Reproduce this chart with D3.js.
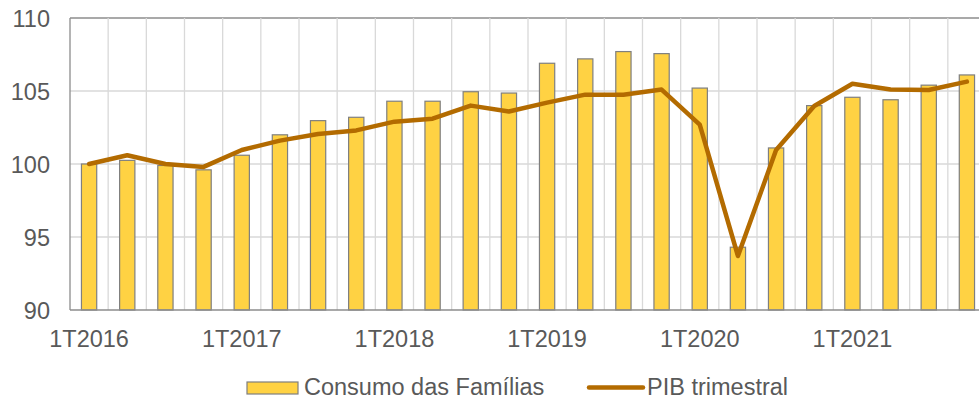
<!DOCTYPE html>
<html>
<head>
<meta charset="utf-8">
<script src="https://cdn.jsdelivr.net/npm/d3@7"></script>
<style>
  body { margin: 0; background: #fff; }
  text { font-family: "Liberation Sans", Arial, sans-serif; fill: #595959; }
</style>
</head>
<body>
<div id="chart"></div>
<script>
var quarters = [];
[2016, 2017, 2018, 2019, 2020, 2021].forEach(function(yr) {
  for (var q = 1; q <= 4; q++) quarters.push(q + "T" + yr);
});

var consumo = [100.0, 100.25, 99.9, 99.6, 100.6, 102.0, 102.97, 103.2,
               104.3, 104.3, 104.95, 104.86, 106.9, 107.2, 107.7, 107.56,
               105.2, 94.3, 101.1, 104.0, 104.57, 104.4, 105.4, 106.1];

var pib = [100.0, 100.6, 100.0, 99.8, 100.96, 101.6, 102.05, 102.3,
           102.9, 103.1, 104.0, 103.6, 104.2, 104.75, 104.75, 105.1,
           102.7, 93.7, 100.96, 103.97, 105.5, 105.1, 105.07, 105.64];

var yTicks = [90, 95, 100, 105, 110];

var width = 979, height = 400;
var mLeft = 70, mTop = 18, mBottom = 310, plotRight = 986;
var fs = 23.5;

var svg = d3.select("#chart").append("svg")
    .attr("width", width)
    .attr("height", height);

var x = d3.scaleBand()
    .domain(quarters)
    .range([mLeft, plotRight]);

var y = d3.scaleLinear()
    .domain([90, 110])
    .range([mBottom, mTop]);

function label(g, tx, ty, str, anchor) {
  return g.append("text")
    .attr("x", tx).attr("y", ty)
    .attr("text-anchor", anchor || "start")
    .attr("font-size", fs)
    .text(str);
}

// grid
var grid = svg.append("g");
grid.selectAll(".hg")
    .data(yTicks.filter(function(d) { return d > 90; }))
    .enter().append("line")
    .attr("x1", mLeft).attr("x2", width)
    .attr("y1", function(d) { return y(d); })
    .attr("y2", function(d) { return y(d); })
    .attr("stroke", function(d) { return d === 110 ? "#8c8c8c" : "#d9d9d9"; })
    .attr("stroke-width", 1.3);

grid.selectAll(".vg")
    .data(quarters.slice(1))
    .enter().append("line")
    .attr("x1", function(d) { return x(d); })
    .attr("x2", function(d) { return x(d); })
    .attr("y1", mTop).attr("y2", mBottom)
    .attr("stroke", "#d9d9d9")
    .attr("stroke-width", 1.3);

// left axis line
svg.append("line")
    .attr("x1", mLeft).attr("x2", mLeft)
    .attr("y1", mTop).attr("y2", mBottom)
    .attr("stroke", "#8c8c8c").attr("stroke-width", 1.3);

// bars
var bw = x.bandwidth() * 0.4;
svg.append("g").selectAll("rect")
    .data(consumo)
    .enter().append("rect")
    .attr("x", function(d, i) { return x(quarters[i]) + x.bandwidth() / 2 - bw / 2; })
    .attr("y", function(d) { return y(d); })
    .attr("width", bw)
    .attr("height", function(d) { return mBottom - y(d); })
    .attr("fill", "#ffd243")
    .attr("stroke", "#7f7f7f")
    .attr("stroke-width", 1.2);

// bottom axis
svg.append("line")
    .attr("x1", mLeft).attr("x2", width)
    .attr("y1", mBottom).attr("y2", mBottom)
    .attr("stroke", "#8c8c8c").attr("stroke-width", 1.5);

// PIB line
var line = d3.line()
    .x(function(d, i) { return x(quarters[i]) + x.bandwidth() / 2; })
    .y(function(d) { return y(d); });

svg.append("path")
    .datum(pib)
    .attr("d", line)
    .attr("fill", "none")
    .attr("stroke", "#b36b00")
    .attr("stroke-width", 4.5)
    .attr("stroke-linejoin", "round")
    .attr("stroke-linecap", "round");

// y labels
var yl = svg.append("g");
yTicks.forEach(function(d) { label(yl, 50, y(d) + 8.5, d, "end"); });

// x labels
var xl = svg.append("g");
quarters.filter(function(d) { return d.indexOf("1T") === 0; }).forEach(function(d) {
  label(xl, x(d) + x.bandwidth() / 2, 347, d, "middle");
});

// legend
var lg = svg.append("g");
lg.append("rect")
    .attr("x", 247).attr("y", 382)
    .attr("width", 51).attr("height", 12)
    .attr("fill", "#ffd243").attr("stroke", "#7f7f7f").attr("stroke-width", 1.2);
label(lg, 304, 395, "Consumo das Famílias");
lg.append("line")
    .attr("x1", 589).attr("x2", 643)
    .attr("y1", 387.5).attr("y2", 387.5)
    .attr("stroke", "#b36b00").attr("stroke-width", 4.5)
    .attr("stroke-linecap", "round");
label(lg, 647, 395, "PIB trimestral");
</script>
</body>
</html>
